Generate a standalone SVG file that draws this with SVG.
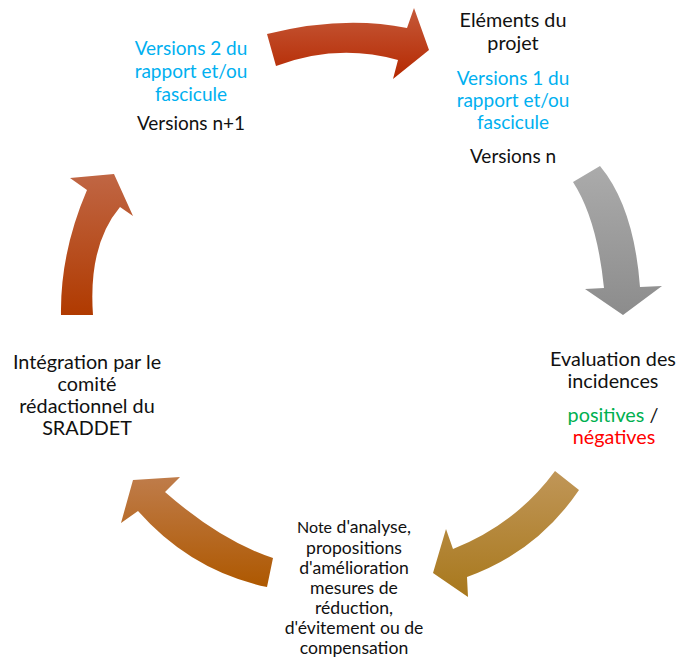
<svg xmlns="http://www.w3.org/2000/svg" width="676" height="663" viewBox="0 0 676 663">
<style>
text{font-family:Lato,"Liberation Sans",sans-serif;font-size:19px;fill:#111;text-anchor:middle}
.w{font-size:19.8px}
.b{fill:#00B0F0}
.g{fill:#00B050}
.r{fill:#FF0000}
.s{font-size:17.6px}
.n{font-size:16px}
</style>
<defs>
<linearGradient id="gRed" x1="0" y1="0" x2="0" y2="1"><stop offset="0" stop-color="#C55A3A"/><stop offset="1" stop-color="#B52800"/></linearGradient>
<linearGradient id="gGray" x1="0" y1="0" x2="0" y2="1"><stop offset="0" stop-color="#ABABAB"/><stop offset="1" stop-color="#8C8C8C"/></linearGradient>
<linearGradient id="gGold" x1="0" y1="0" x2="0" y2="1"><stop offset="0" stop-color="#C09658"/><stop offset="1" stop-color="#A8781C"/></linearGradient>
<linearGradient id="gOrange" x1="0" y1="0" x2="0" y2="1"><stop offset="0" stop-color="#BF7C4A"/><stop offset="1" stop-color="#AE5800"/></linearGradient>
<linearGradient id="gRust" x1="0" y1="0" x2="0" y2="1"><stop offset="0" stop-color="#C06644"/><stop offset="1" stop-color="#B03A00"/></linearGradient>
</defs>
<g id="connectors">
<path d="M267,34 Q343,15 407,28 L414,8 L429,50 L393,79 L398,60 Q337,43 276,66 Z" fill="url(#gRed)"/>
<path d="M573,182 L600,166 Q634,207 640,287 L662,286 L623,315 L585,289 L604,288 Q597,219 573,182 Z" fill="url(#gGray)"/>
<path d="M555,471 L579,490 Q537,552 467,577 L468,597 L433,573 L446,529 L453,549 Q516,524 555,471 Z" fill="url(#gGold)"/>
<path d="M273,558 Q221,541 165,492 L180,477 L133,480 L121,523 L138,511 Q191,571 267,587 Z" fill="url(#gOrange)"/>
<path d="M61,315 Q60,253 87,190 L70,178 L114,174 L133,216 L120,207 Q88,245 93,315 Z" fill="url(#gRust)"/>
</g>
<g id="node-versions2">
<text x="191" y="55" class="b">Versions 2 du</text>
<text x="191" y="78" class="b">rapport et/ou</text>
<text x="191" y="101" class="b">fascicule</text>
<text x="191" y="130">Versions n+1</text>
</g>
<g id="node-elements">
<text x="513" y="27" class="w">Eléments du</text>
<text x="513" y="50" class="w">projet</text>
<text x="513" y="85" class="b">Versions 1 du</text>
<text x="513" y="107" class="b">rapport et/ou</text>
<text x="513" y="129" class="b">fascicule</text>
<text x="513" y="163">Versions n</text>
</g>
<g id="node-evaluation">
<text x="613" y="366" class="w">Evaluation des</text>
<text x="613" y="388" class="w">incidences</text>
<text x="613" y="422" class="w"><tspan class="g">positives</tspan> /</text>
<text x="614" y="444" class="r w">négatives</text>
</g>
<g id="node-note">
<text x="354" y="533" class="s"><tspan class="n">Note</tspan> d'analyse,</text>
<text x="354" y="553.5" class="s">propositions</text>
<text x="354" y="574" class="s">d'amélioration</text>
<text x="354" y="594" class="s">mesures de</text>
<text x="354" y="614" class="s">réduction,</text>
<text x="354" y="634" class="s">d'évitement ou de</text>
<text x="354" y="654" class="s">compensation</text>
</g>
<g id="node-integration">
<text x="87" y="369" class="w">Intégration par le</text>
<text x="87" y="391" class="w">comité</text>
<text x="87" y="413" class="w">rédactionnel du</text>
<text x="87" y="435" class="w">SRADDET</text>
</g>
</svg>
